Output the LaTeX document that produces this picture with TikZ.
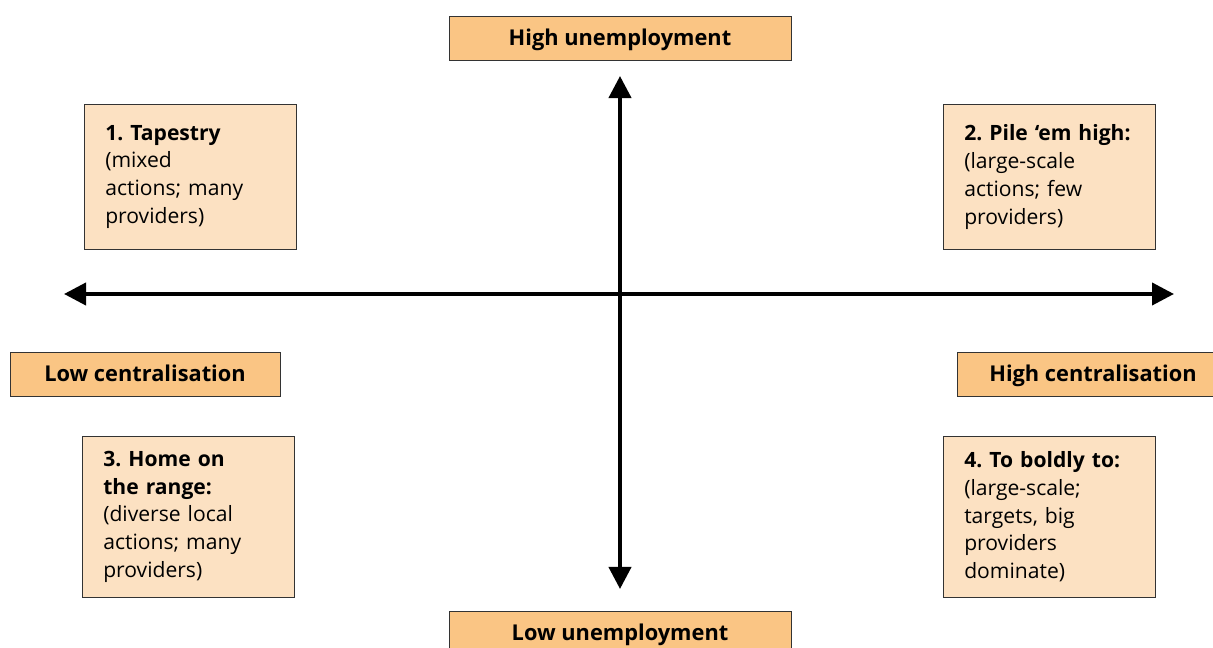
\documentclass[tikz,border=0pt]{standalone}
\usepackage{fontspec}
\setmainfont{Open Sans}
\usetikzlibrary{arrows.meta}
\definecolor{axisorange}{HTML}{FAC584}
\definecolor{quadpeach}{HTML}{FCE1C2}
\definecolor{boxline}{HTML}{333333}
\frenchspacing

\begin{document}
\begin{tikzpicture}[
  x=0.025cm, y=-0.025cm,
  axbox/.style={draw=boxline, fill=axisorange, minimum height=1.1cm, text depth=0.05cm, font=\fontsize{15.5}{18}\selectfont\bfseries},
  quad/.style={draw=boxline, fill=quadpeach, anchor=north west, text width=4.25cm, inner xsep=0.525cm, minimum height=3.625cm, align=left, font=\fontsize{15}{19.8}\selectfont},
  axis/.style={{Triangle[length=0.55cm,width=0.55cm]}-{Triangle[length=0.55cm,width=0.55cm]}, line width=0.1cm}
]
\useasboundingbox (0,0) rectangle (1213,648);
\clip (0,0) rectangle (1213,648);

\node[axbox, minimum width=8.55cm] (highun) at (620,38) {High unemployment};
\node[axbox, minimum width=8.55cm] (lowun) at (620,633) {Low unemployment};
\node[axbox, minimum width=6.75cm] (lowcen) at (145,374) {Low centralisation};
\node[axbox, minimum width=6.8cm] (highcen) at (1093,374) {High centralisation};

\node[quad] (tapestry) at (84,104) {\textbf{1. Tapestry}\\(mixed\\actions; many\\providers)};
\node[quad] (pile) at (943,104) {\textbf{2. Pile ‘em high:}\\(large-scale\\actions; few\\providers)};
\node[quad, minimum height=4.025cm] (home) at (82,436) {\textbf{3. Home on}\\\textbf{the range:}\\(diverse local\\actions; many\\providers)};
\node[quad, minimum height=4.025cm] (boldly) at (943,436) {\textbf{4. To boldly to:}\\(large-scale;\\targets, big\\providers\\dominate)};

\coordinate (north) at (620,76);
\coordinate (south) at (620,589);
\coordinate (west) at (64,294);
\coordinate (east) at (1174,294);
\draw[axis] (south) -- (north);
\draw[axis] (west) -- (east);
\end{tikzpicture}
\end{document}
